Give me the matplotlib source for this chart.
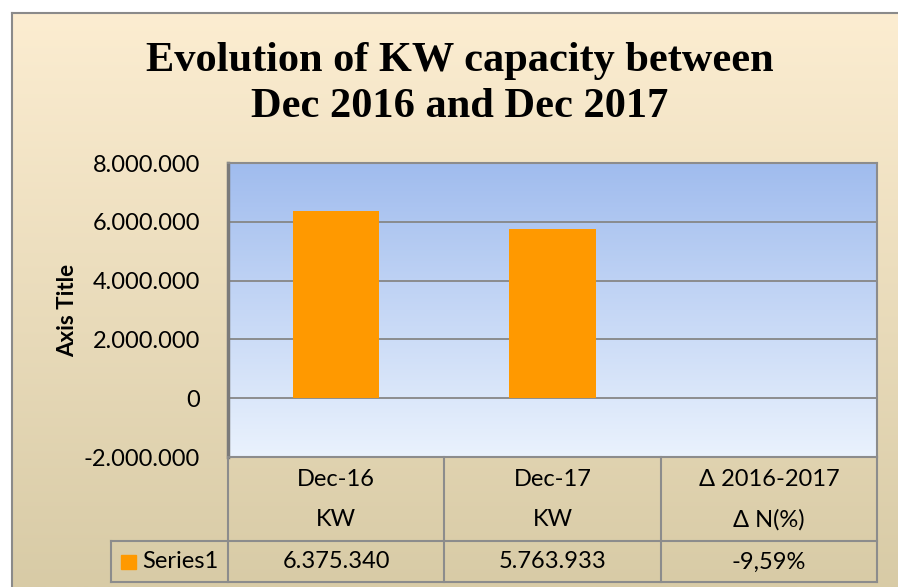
import numpy as np
import matplotlib
matplotlib.use("Agg")
import matplotlib.pyplot as plt
from matplotlib.patches import Rectangle

plt.rcParams['font.family'] = ['Lato', 'DejaVu Sans']

# data
periods = ["Dec-16", "Dec-17", "\u0394 2016-2017"]
units = ["KW", "KW", "\u0394 N(%)"]
series_name = "Series1"
values = [6375340, 5763933, -0.0959]
title = "Evolution of KW capacity between\nDec 2016 and Dec 2017"
y_ticks = [-2000000, 0, 2000000, 4000000, 6000000, 8000000]

bar_color = '#FF9900'
grid_color = '#868686'
fs = 17


def fmt_num(v):
  return f"{v:,.0f}".replace(",", ".")


def fmt_pct(v):
  return f"{v * 100:.2f}%".replace(".", ",")


W, H = 898, 587
fig = plt.figure(figsize=(W / 100, H / 100), dpi=100)
fig.patch.set_facecolor('white')

# chart background (beige gradient)
bg = fig.add_axes([12 / W, 0, 1 - 12 / W, 1 - 13 / H], zorder=-10)
grad = np.linspace(0, 1, 256).reshape(-1, 1)
top_c = np.array([252, 237, 209]) / 255
bot_c = np.array([216, 203, 166]) / 255
img = top_c + (bot_c - top_c) * grad[:, :, None]
bg.imshow(img, aspect='auto', extent=[0, 1, 0, 1], origin='upper')
bg.set_xlim(0, 1)
bg.set_ylim(0, 1)
bg.set_xticks([])
bg.set_yticks([])
for s in ['right', 'bottom']:
  bg.spines[s].set_visible(False)
for s in ['left', 'top']:
  bg.spines[s].set_color('#8a8a8a')
  bg.spines[s].set_linewidth(1.5)

# plot area
left, right, top, bottom = 228, 877, 163, 457
ax = fig.add_axes([left / W, 1 - bottom / H, (right - left) / W, (bottom - top) / H])
ptop = np.array([160, 188, 238]) / 255
pbot = np.array([234, 242, 253]) / 255
pimg = ptop + (pbot - ptop) * grad[:, :, None]
ax.imshow(pimg, aspect='auto', extent=[0, 1, 0, 1], origin='upper',
          transform=ax.transAxes, zorder=0)

x = np.arange(len(values))
ax.bar(x, values, width=0.4, color=bar_color, zorder=3)
ax.set_xlim(-0.5, len(values) - 0.5)
ax.set_ylim(y_ticks[0], y_ticks[-1])
ax.set_yticks(y_ticks)
ax.set_yticklabels([fmt_num(v) for v in y_ticks], fontsize=fs)
ax.tick_params(axis='y', length=0, pad=20)
ax.set_xticks([])
for yv in y_ticks:
  ax.axhline(yv, color=grid_color, lw=1.3, zorder=2)
for s in ax.spines.values():
  s.set_color('#8c8c8c')
  s.set_linewidth(1.5)
ax.spines['left'].set_linewidth(2.5)
ax.spines['left'].set_color('#7a7a7a')

ax.set_ylabel("Axis Title", fontsize=16, fontweight='bold')
ax.yaxis.set_label_coords((78 - left) / (right - left), 0.5)

# data table below the plot area
ph = bottom - top
pw = right - left
def ay(py):
  return (bottom - py) / ph
def ax_(px):
  return (px - left) / pw

row1_bot = ay(541)
row2_bot = ay(582)
lab_left = ax_(111)
lc = '#8c8c8c'
lkw = dict(color=lc, lw=1.5, transform=ax.transAxes, clip_on=False, zorder=5)
ax.plot([lab_left, 1], [row1_bot, row1_bot], **lkw)
ax.plot([lab_left, 1], [row2_bot, row2_bot], **lkw)
ax.plot([lab_left, lab_left], [row1_bot, row2_bot], **lkw)
n = len(values)
for i in range(n + 1):
  ax.plot([i / n, i / n], [0, row2_bot], **lkw)

for i in range(n):
  cx = (i + 0.5) / n
  ax.text(cx, ay(479), periods[i], transform=ax.transAxes, ha='center',
          va='center', fontsize=fs, clip_on=False)
  ax.text(cx, ay(520), units[i], transform=ax.transAxes, ha='center',
          va='center', fontsize=fs, clip_on=False)
  label = fmt_num(values[i]) if i < 2 else fmt_pct(values[i])
  ax.text(cx, ay(562), label, transform=ax.transAxes, ha='center',
          va='center', fontsize=fs, clip_on=False)

ax.add_patch(Rectangle((ax_(121), ay(569)), ax_(136) - ax_(121), ay(555) - ay(569),
                       transform=ax.transAxes, color=bar_color, clip_on=False, zorder=5))
ax.text(ax_(142), ay(562), series_name, transform=ax.transAxes, ha='left',
        va='center', fontsize=fs, clip_on=False)

# title
fig.text(460 / W, 1 - 84 / H, title, ha='center', va='center',
         fontsize=30.5, fontweight='bold', family=['Liberation Serif'],
         linespacing=1.3)

fig.savefig("out.png", dpi=100)
